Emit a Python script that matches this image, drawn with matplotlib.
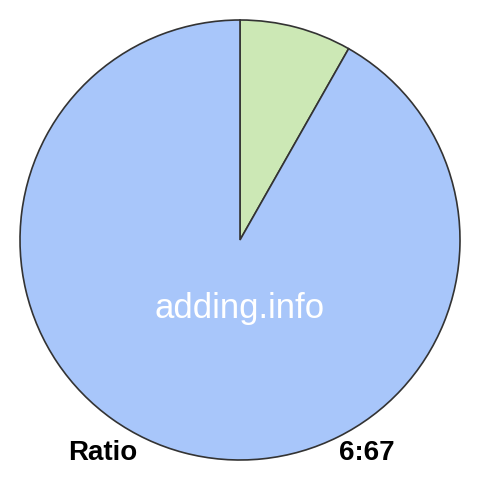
import matplotlib
matplotlib.use("Agg")
import matplotlib.pyplot as plt

labels = ["6", "67"]
values = [6, 67]
colors = ["#cce8b5", "#a8c6fa"]

plt.rcParams['font.family'] = ['Liberation Sans', 'DejaVu Sans']

fig = plt.figure(figsize=(4.8, 4.8), dpi=100)
ax = fig.add_axes([20/480, 20/480, 440/480, 440/480])
ax.pie(values, colors=colors, startangle=90, counterclock=False,
       radius=1, wedgeprops=dict(edgecolor="#333333", linewidth=1.2))
ax.set_xlim(-1.0, 1.0)
ax.set_ylim(-1.0, 1.0)
ax.set_aspect("equal")
ax.axis("off")

fig.text(240/480, 1 - 318/480, "adding.info", color="white", fontsize=25,
         ha="center", va="baseline")
fig.text(68/480, 1 - 460/480, "Ratio", color="black", fontsize=20,
         fontweight="bold", ha="left", va="baseline")
fig.text(395/480, 1 - 460/480, "%d:%d" % (values[0], values[1]), color="black",
         fontsize=20, fontweight="bold", ha="right", va="baseline")

fig.savefig("out.png", dpi=100, facecolor="white")
